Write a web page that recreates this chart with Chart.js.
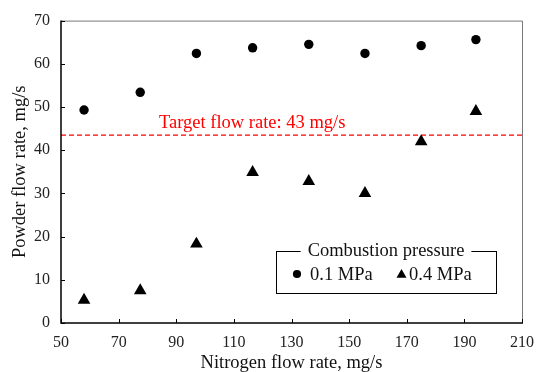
<!DOCTYPE html>
<html>
<head>
<meta charset="utf-8">
<script src="https://cdn.jsdelivr.net/npm/chart.js@4/dist/chart.umd.min.js"></script>
<style>
  html, body { margin: 0; padding: 0; background: #fff; }
  #wrap { width: 544px; height: 372px; }
</style>
</head>
<body>
<div id="wrap"><canvas id="flowChart" width="544" height="372"></canvas></div>
<script>
    // nitrogen flow rate (mg/s)
    const nitrogenFlow = [58, 77.5, 97, 116.5, 136, 155.5, 175, 194];
    // powder flow rate (mg/s) per combustion pressure
    const powder01MPa = [49.3, 53.4, 62.4, 63.7, 64.5, 62.4, 64.2, 65.6];
    const powder04MPa = [5.3, 7.5, 18.3, 34.9, 32.8, 30.0, 42.0, 49.0];
    const targetFlow = 43.5;
    const targetLabel = 'Target flow rate: 43 mg/s';
    const seriesLabels = ['0.1 MPa', '0.4 MPa'];
    const legendTitle = 'Combustion pressure';

    const serif = '"Liberation Serif", "Times New Roman", serif';

    const toPoints = ys => ys.map((y, i) => ({ x: nitrogenFlow[i], y: y }));

    // frame, inward ticks, target label and legend box
    const framePlugin = {
        id: 'frame',
        afterDraw(chart) {
            const ctx = chart.ctx;
            const a = chart.chartArea;
            const xs = chart.scales.x, ys = chart.scales.y;
            ctx.save();
            // grey top/right border
            ctx.strokeStyle = '#777';
            ctx.lineWidth = 1;
            ctx.beginPath();
            ctx.moveTo(a.left, a.top + 0.5);
            ctx.lineTo(a.right + 0.5, a.top + 0.5);
            ctx.lineTo(a.right + 0.5, a.bottom);
            ctx.stroke();
            // black left/bottom axes
            ctx.strokeStyle = '#000';
            ctx.lineWidth = 1.5;
            ctx.beginPath();
            ctx.moveTo(a.left, a.top);
            ctx.lineTo(a.left, a.bottom);
            ctx.lineTo(a.right + 1, a.bottom);
            ctx.stroke();
            // inward ticks
            ctx.lineWidth = 1;
            ctx.beginPath();
            xs.ticks.forEach(t => {
                const px = Math.round(xs.getPixelForValue(t.value)) + 0.5;
                ctx.moveTo(px, a.bottom);
                ctx.lineTo(px, a.bottom - 4);
            });
            ys.ticks.forEach(t => {
                const py = Math.round(ys.getPixelForValue(t.value)) + 0.5;
                ctx.moveTo(a.left, py);
                ctx.lineTo(a.left + 4, py);
            });
            ctx.stroke();

            // target label
            ctx.fillStyle = '#ff0000';
            ctx.font = '18.5px ' + serif;
            ctx.textAlign = 'left';
            ctx.textBaseline = 'alphabetic';
            ctx.fillText(targetLabel, xs.getPixelForValue(84), ys.getPixelForValue(targetFlow) - 7);

            // legend
            const bx = 276, by = 251, bw = 220, bh = 42;
            ctx.strokeStyle = '#000';
            ctx.lineWidth = 1;
            ctx.strokeRect(bx + 0.5, by + 0.5, bw, bh);
            ctx.font = '18.5px ' + serif;
            const tw = ctx.measureText(legendTitle).width;
            const cx = bx + bw / 2;
            ctx.fillStyle = '#fff';
            ctx.fillRect(cx - tw / 2 - 7, by - 3, tw + 14, 7);
            ctx.fillStyle = '#111';
            ctx.textAlign = 'center';
            ctx.textBaseline = 'middle';
            ctx.fillText(legendTitle, cx, by);
            const iy = by + 23;
            ctx.fillStyle = '#000';
            ctx.beginPath();
            ctx.arc(bx + 21, iy, 4.1, 0, Math.PI * 2);
            ctx.fill();
            ctx.beginPath();
            ctx.moveTo(bx + 125.5, iy - 5);
            ctx.lineTo(bx + 130.5, iy + 3.8);
            ctx.lineTo(bx + 120.5, iy + 3.8);
            ctx.closePath();
            ctx.fill();
            ctx.fillStyle = '#111';
            ctx.textAlign = 'left';
            ctx.fillText(seriesLabels[0], bx + 34, iy + 1);
            ctx.fillText(seriesLabels[1], bx + 133, iy + 1);
            ctx.restore();
        }
    };

    const ctx = document.getElementById('flowChart').getContext('2d');
    new Chart(ctx, {
        type: 'scatter',
        data: {
            datasets: [{
                label: seriesLabels[0],
                data: toPoints(powder01MPa),
                pointStyle: 'circle',
                pointRadius: 4.7,
                backgroundColor: '#000',
                borderColor: '#000',
                borderWidth: 0
            }, {
                label: seriesLabels[1],
                data: toPoints(powder04MPa),
                pointStyle: 'triangle',
                pointRadius: 7.3,
                backgroundColor: '#000',
                borderColor: '#000',
                borderWidth: 0
            }, {
                type: 'line',
                label: 'target',
                data: [{ x: 50, y: targetFlow }, { x: 210, y: targetFlow }],
                borderColor: '#ff0000',
                borderWidth: 1.3,
                borderDash: [5, 3],
                pointRadius: 0
            }]
        },
        options: {
            responsive: false,
            animation: false,
            layout: { padding: { top: 20, right: 14, left: 0, bottom: 0 } },
            plugins: {
                legend: { display: false },
                tooltip: { enabled: false }
            },
            scales: {
                x: {
                    type: 'linear',
                    min: 50, max: 210,
                    ticks: { stepSize: 20, padding: 10, color: '#222', font: { family: serif, size: 16 } },
                    grid: { display: false, drawTicks: false },
                    border: { display: false },
                    title: { display: true, text: 'Nitrogen flow rate, mg/s', color: '#111',
                             font: { family: serif, size: 18.5 }, padding: { top: 0, bottom: -2 } },
                    afterFit(scale) { scale.height = 49; }
                },
                y: {
                    min: 0, max: 70,
                    ticks: { stepSize: 10, padding: 11, color: '#222', font: { family: serif, size: 16 } },
                    grid: { display: false, drawTicks: false },
                    border: { display: false },
                    title: { display: true, text: 'Powder flow rate, mg/s', color: '#111',
                             font: { family: serif, size: 18.5 }, padding: { top: 9, bottom: 0 } },
                    afterFit(scale) { scale.width = 61; }
                }
            }
        },
        plugins: [framePlugin]
    });
</script>
</body>
</html>
